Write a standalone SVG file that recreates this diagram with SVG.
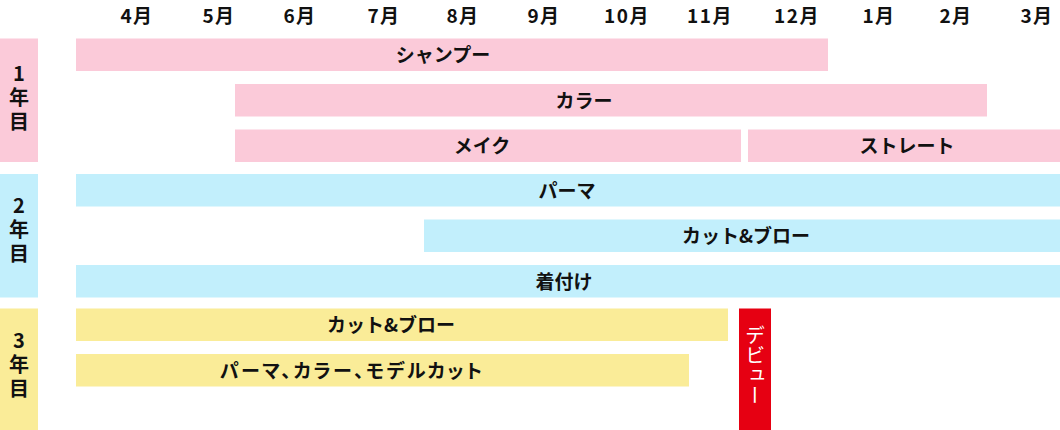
<svg xmlns="http://www.w3.org/2000/svg" width="1060" height="430" viewBox="0 0 1060 430">
<style>
text{font-family:"Noto Sans CJK JP","Noto Sans",sans-serif;font-weight:bold;fill:#111;}
.m{font-size:19px;text-anchor:middle;letter-spacing:1.5px;}
.l{font-size:19px;text-anchor:middle;}
.y{font-size:20px;writing-mode:vertical-rl;text-orientation:upright;letter-spacing:4px;}
.p{fill:#FBCAD9;}
.b{fill:#C2EFFC;}
.w{fill:#FAEC98;}
.r{fill:#E60012;}
.v{font-size:20px;font-weight:normal;fill:#fff;writing-mode:vertical-rl;letter-spacing:0px;}
</style>
<rect width="1060" height="430" fill="#fff"/>
<g id="months">
<text class="m" x="137" y="23">4月</text>
<text class="m" x="219" y="23">5月</text>
<text class="m" x="300" y="23">6月</text>
<text class="m" x="384" y="23">7月</text>
<text class="m" x="463" y="23">8月</text>
<text class="m" x="544" y="23">9月</text>
<text class="m" x="627" y="23">10月</text>
<text class="m" x="710" y="23">11月</text>
<text class="m" x="797" y="23">12月</text>
<text class="m" x="879" y="23">1月</text>
<text class="m" x="956" y="23">2月</text>
<text class="m" x="1037" y="23">3月</text>
</g>
<g id="year1">
<rect class="p" x="0" y="38.5" width="38" height="123.5"/>
<text class="y" x="19" y="63">1年目</text>
</g>
<g id="year2">
<rect class="b" x="0" y="174" width="38" height="123.5"/>
<text class="y" x="19" y="195">2年目</text>
</g>
<g id="year3">
<rect class="w" x="0" y="308.5" width="38" height="121.5"/>
<text class="y" x="19" y="330">3年目</text>
</g>
<g id="y1-shampoo"><rect class="p" x="76" y="38.5" width="752" height="32.5"/><text class="l" x="443" y="62">シャンプー</text></g>
<g id="y1-color"><rect class="p" x="235" y="84" width="752" height="32.5"/><text class="l" x="584" y="107.5">カラー</text></g>
<g id="y1-make"><rect class="p" x="235" y="129.5" width="506" height="32.5"/><text class="l" x="482" y="153">メイク</text></g>
<g id="y1-straight"><rect class="p" x="748" y="129.5" width="312" height="32.5"/><text class="l" x="907" y="153">ストレート</text></g>
<g id="y2-perm"><rect class="b" x="76" y="174" width="984" height="32.5"/><text class="l" x="567" y="197.5">パーマ</text></g>
<g id="y2-cut"><rect class="b" x="424" y="219.5" width="636" height="32.5"/><text class="l" x="746" y="243">カット&amp;ブロー</text></g>
<g id="y2-kitsuke"><rect class="b" x="76" y="265" width="984" height="32.5"/><text class="l" x="564" y="288.5">着付け</text></g>
<g id="y3-cut"><rect class="w" x="76" y="308.5" width="652" height="32.5"/><text class="l" x="391" y="332">カット&amp;ブロー</text></g>
<g id="y3-model"><rect class="w" x="76" y="354" width="613" height="32.5"/><text class="l" x="351" y="377.5" style="font-feature-settings:'palt'" textLength="262" lengthAdjust="spacing">パーマ、カラー、モデルカット</text></g>
<g id="debut"><rect class="r" x="739" y="308.5" width="32" height="121.5"/><text class="v" x="755" y="325">デビュー</text></g>
<g id="connectors"/>
</svg>
